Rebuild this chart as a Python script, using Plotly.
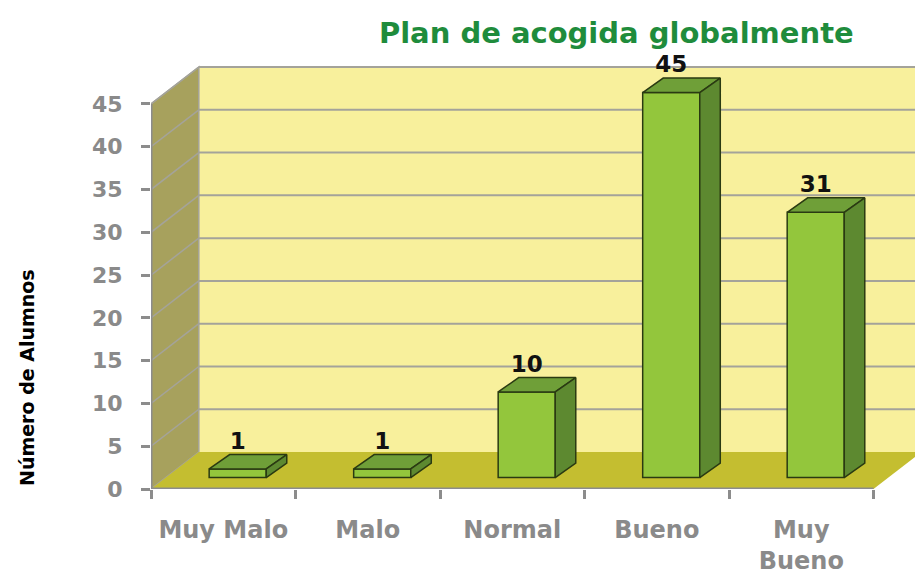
import plotly.graph_objects as go

# ---- data ----
categories = ["Muy Malo", "Malo", "Normal", "Bueno", "Muy<br>Bueno"]
values = [1, 1, 10, 45, 31]
y_ticks = [0, 5, 10, 15, 20, 25, 30, 35, 40, 45]

# ---- style / geometry parameters ----
FONT = "DejaVu Sans"
WALL_DX, WALL_DY = 0.331, 4.32      # depth of the 3D box (axis units)
BAR_OFF, BAR_W = 0.10, 0.395        # bar front-face offset & width
BAR_BASE = 1.34                     # bar front base (depth shift)
BAR_DX, BAR_DY = 0.142, 1.69        # bar depth
Y_MAX = 45
X_LO, X_HI = -0.5, 4.787
Y_LO, Y_HI = 0, 51.31
FIG_W, FIG_H = 915, 579

C_WALL = "#f8f09c"
C_SIDE = "#a7a15d"
C_FLOOR = "#c4be30"
C_GRID = "#a4a39a"
C_AXIS = "#8c8c8c"
C_FRONT = "#93c63c"
C_TOP = "#6f9f38"
C_RSIDE = "#5d8930"
C_EDGE = "#2a3a12"

n = len(categories)
xs = list(range(n))

fig = go.Figure()

# front faces of bars
fig.add_trace(go.Bar(
    x=[x + BAR_OFF for x in xs], y=values, base=BAR_BASE, width=BAR_W,
    marker=dict(color=C_FRONT, line=dict(color=C_EDGE, width=1.5)),
    hoverinfo="skip", showlegend=False))

# top and side faces of bars
for x, v in zip(xs, values):
    xl = x + BAR_OFF - BAR_W / 2
    xr = x + BAR_OFF + BAR_W / 2
    yt = BAR_BASE + v
    fig.add_trace(go.Scatter(
        x=[xl, xl + BAR_DX, xr + BAR_DX, xr, xl],
        y=[yt, yt + BAR_DY, yt + BAR_DY, yt, yt],
        mode="lines", fill="toself", fillcolor=C_TOP,
        line=dict(color=C_EDGE, width=1.5), hoverinfo="skip", showlegend=False))
    fig.add_trace(go.Scatter(
        x=[xr, xr + BAR_DX, xr + BAR_DX, xr, xr],
        y=[BAR_BASE, BAR_BASE + BAR_DY, yt + BAR_DY, yt, BAR_BASE],
        mode="lines", fill="toself", fillcolor=C_RSIDE,
        line=dict(color=C_EDGE, width=1.5), hoverinfo="skip", showlegend=False))

# value labels
fig.add_trace(go.Scatter(
    x=[x + BAR_OFF for x in xs],
    y=[BAR_BASE + v + BAR_DY for v in values],
    text=[str(v) for v in values], mode="text", textposition="top center",
    textfont=dict(family=FONT, size=23, color="#111111", weight="bold"),
    hoverinfo="skip", showlegend=False))

# ---- 3D box: walls, floor, gridlines ----
shapes = []
x0 = -0.5
xb = x0 + WALL_DX
# back wall
shapes.append(dict(type="rect", xref="x", yref="y", layer="below",
                   x0=xb, x1=n - 0.5 + WALL_DX, y0=WALL_DY, y1=Y_MAX + WALL_DY,
                   fillcolor=C_WALL, line=dict(width=0)))
# side wall
shapes.append(dict(type="path", xref="x", yref="y", layer="below",
                   path=f"M {x0},0 L {x0},{Y_MAX} L {xb},{Y_MAX + WALL_DY} L {xb},{WALL_DY} Z",
                   fillcolor=C_SIDE, line=dict(color=C_GRID, width=1.5)))
# gridlines on back and side walls
for t in y_ticks[1:]:
    shapes.append(dict(type="line", xref="x", yref="y", layer="below",
                       x0=xb, x1=n - 0.5 + WALL_DX + 1, y0=t + WALL_DY, y1=t + WALL_DY,
                       line=dict(color=C_GRID, width=2)))
    shapes.append(dict(type="line", xref="x", yref="y", layer="below",
                       x0=x0, x1=xb, y0=t, y1=t + WALL_DY,
                       line=dict(color=C_GRID, width=1.5)))
# floor
shapes.append(dict(type="path", xref="x", yref="y", layer="below",
                   path=f"M {x0},0 L {n - 0.5},0 L {n - 0.5 + WALL_DX},{WALL_DY} L {xb},{WALL_DY} Z",
                   fillcolor=C_FLOOR, line=dict(width=0)))
# axis lines
shapes.append(dict(type="line", xref="x", yref="y", layer="below",
                   x0=x0, x1=x0, y0=0, y1=Y_MAX, line=dict(color=C_AXIS, width=3)))
shapes.append(dict(type="line", xref="x", yref="y", layer="below",
                   x0=x0, x1=n - 0.5, y0=0, y1=0, line=dict(color=C_AXIS, width=3)))

fig.update_layout(
    width=FIG_W, height=FIG_H,
    margin=dict(l=151, r=0, t=50, b=90, autoexpand=False),
    paper_bgcolor="white", plot_bgcolor="white",
    shapes=shapes,
    bargap=0,
    title=dict(text="Plan de acogida globalmente", x=0.609, xref="paper",
               y=1 - 33 / FIG_H, yref="container",
               xanchor="center", yanchor="middle", automargin=False,
               font=dict(family=FONT, size=29, color="#1f8c3c", weight="bold")),
    xaxis=dict(range=[X_LO, X_HI], tickvals=xs, ticktext=categories,
               ticks="", showgrid=False, zeroline=False, showline=False,
               ticklabelstandoff=24, automargin=False,
               tickfont=dict(family=FONT, size=24, color="#8a8a8a", weight="bold"),
               minor=dict(tickvals=[i - 0.5 for i in range(n + 1)], ticks="outside",
                          ticklen=9, tickwidth=3, tickcolor=C_AXIS, showgrid=False),
               fixedrange=True),
    yaxis=dict(range=[Y_LO, Y_HI], tickvals=y_ticks, ticks="outside",
               ticklen=9, tickwidth=3, tickcolor=C_AXIS,
               showgrid=False, zeroline=False, showline=False,
               ticklabelstandoff=14, automargin=False,
               tickfont=dict(family=FONT, size=22, color="#8a8a8a", weight="bold"),
               fixedrange=True),
    annotations=[dict(text="Número de Alumnos", xref="paper", yref="paper",
                      x=-124 / 764, y=(489 - 378) / 439, textangle=-90,
                      showarrow=False, xanchor="center", yanchor="middle",
                      font=dict(family=FONT, size=19, color="black", weight="bold"))],
)

fig.write_html(
    "out.html",
    config={"displayModeBar": False, "staticPlot": True},
    post_script="document.body.style.margin='0';document.body.style.overflow='hidden';")
